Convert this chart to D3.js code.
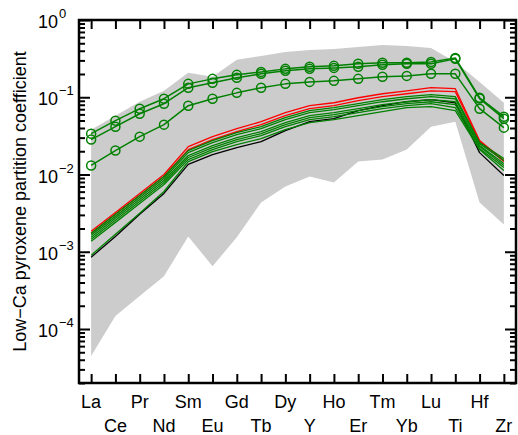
<!DOCTYPE html>
<html>
<head>
<meta charset="utf-8">
<script src="https://cdn.jsdelivr.net/npm/d3@7"></script>
<style>
  body { margin: 0; background: #fff; }
  svg { display: block; font-family: "Liberation Sans", Arial, Helvetica, sans-serif; }
</style>
</head>
<body>
<svg id="chart" width="518" height="435"></svg>
<script>
// element order along the x axis
var elements = ["La","Ce","Pr","Nd","Sm","Eu","Gd","Tb","Dy","Y","Ho","Er","Tm","Yb","Lu","Ti","Hf","Zr"];

// grey envelope (range of measured values)
var envelopeUpper = [0.0381,0.0578,0.0875,0.121,0.207,0.184,0.305,0.343,0.386,0.410,0.422,0.448,0.476,0.462,0.435,0.287,0.158,0.0849];
var envelopeLower = [4.48e-5,1.47e-4,2.67e-4,4.83e-4,1.58e-3,6.5e-4,1.54e-3,4.35e-3,7.0e-3,9.42e-3,7.89e-3,0.0147,0.0156,0.0210,0.0416,0.0483,4.35e-3,2.26e-3];

// model curves, no markers
var redCurves = [
  [1.84e-3,3.23e-3,5.69e-3,0.0100,0.0230,0.0310,0.0392,0.0483,0.0631,0.0777,0.0849,0.0985,0.111,0.121,0.133,0.129,0.0275,0.0152],
  [1.73e-3,3.05e-3,5.36e-3,9.42e-3,0.0210,0.0283,0.0359,0.0442,0.0578,0.0711,0.0777,0.0902,0.102,0.111,0.121,0.118,0.0267,0.0147]
];
var greenCurves = [
  [1.73e-3,3.05e-3,5.36e-3,9.42e-3,0.0204,0.0275,0.0348,0.0416,0.0544,0.0670,0.0732,0.0825,0.0929,0.102,0.108,0.102,0.0259,0.0161],
  [1.63e-3,2.87e-3,5.05e-3,8.88e-3,0.0192,0.0259,0.0328,0.0392,0.0513,0.0631,0.0690,0.0777,0.0875,0.0956,0.102,0.0956,0.0251,0.0152],
  [1.54e-3,2.71e-3,4.76e-3,8.37e-3,0.0176,0.0237,0.0301,0.0359,0.0469,0.0578,0.0631,0.0711,0.0801,0.0875,0.0929,0.0875,0.0237,0.0139],
  [1.45e-3,2.55e-3,4.48e-3,7.89e-3,0.0166,0.0223,0.0283,0.0338,0.0442,0.0544,0.0595,0.0670,0.0754,0.0825,0.0875,0.0801,0.0230,0.0131],
  [1.37e-3,2.40e-3,4.22e-3,7.43e-3,0.0156,0.0210,0.0267,0.0319,0.0416,0.0513,0.0561,0.0631,0.0711,0.0777,0.0825,0.0732,0.0217,0.0123],
  [9.0e-4,1.68e-3,3.14e-3,6.03e-3,0.0147,0.0198,0.0244,0.0292,0.0381,0.0469,0.0513,0.0578,0.0650,0.0732,0.0754,0.0670,0.0210,0.0113]
];
var blackCurve = [8.5e-4,1.58e-3,3.05e-3,5.69e-3,0.0135,0.0181,0.0223,0.0267,0.0370,0.0483,0.0528,0.0670,0.0777,0.0875,0.0929,0.0849,0.0192,9.7e-3];

// curves with open circle markers
var markedCurves = [
  [0.0338,0.0498,0.0711,0.0957,0.149,0.173,0.195,0.213,0.233,0.248,0.255,0.271,0.279,0.280,0.287,0.323,0.0986,0.0560],
  [0.0283,0.0416,0.0612,0.0824,0.133,0.154,0.179,0.201,0.220,0.233,0.240,0.248,0.263,0.271,0.271,0.314,0.0960,0.0528],
  [0.0131,0.0204,0.0309,0.0442,0.0777,0.0957,0.114,0.133,0.149,0.158,0.163,0.173,0.184,0.189,0.201,0.201,0.0711,0.0404]
];

var majorTicks = [1, 0.1, 0.01, 0.001, 0.0001];
var yTitle = "Low\u2212Ca pyroxene partition coefficient";

var svg = d3.select('#chart');
var margin = {left: 79, right: 2, top: 20, bottom: 52};
var W = 518, H = 435;
var x0 = margin.left, x1 = W - margin.right, y0 = margin.top, y1 = H - margin.bottom;

var x = d3.scalePoint().domain(elements).range([x0, x1]).padding(0.5);
var y = d3.scaleLog().domain([2e-5, 1]).range([y1, y0]);

var minorTicks = y.ticks().filter(function(v) {
  return majorTicks.indexOf(v) < 0;
});

// envelope
var area = d3.area()
  .x(function(d, i) { return x(elements[i]); })
  .y0(function(d, i) { return y(envelopeLower[i]); })
  .y1(function(d) { return y(d); });

svg.append('path')
  .datum(envelopeUpper)
  .attr('d', area)
  .attr('fill', '#cccccc');

var line = d3.line()
  .x(function(d, i) { return x(elements[i]); })
  .y(function(d) { return y(d); });

function drawCurve(data, colour, width) {
  svg.append('path')
    .datum(data)
    .attr('d', line)
    .attr('fill', 'none')
    .attr('stroke', colour)
    .attr('stroke-width', width)
    .attr('stroke-linejoin', 'round');
}

drawCurve(blackCurve, '#000', 1.3);
redCurves.forEach(function(c) { drawCurve(c, '#ff0000', 1.3); });
greenCurves.forEach(function(c) { drawCurve(c, '#008000', 1.3); });

markedCurves.forEach(function(c) {
  drawCurve(c, '#008000', 1.5);
  svg.append('g').selectAll('circle')
    .data(c)
    .enter().append('circle')
    .attr('cx', function(d, i) { return x(elements[i]); })
    .attr('cy', function(d) { return y(d); })
    .attr('r', 4.5)
    .attr('fill', 'none')
    .attr('stroke', '#008000')
    .attr('stroke-width', 1.5);
});

// axes, ticks pointing inward on all four sides
function axisGroup(axis, tx, ty) {
  var g = svg.append('g')
    .attr('transform', 'translate(' + tx + ',' + ty + ')')
    .call(axis);
  g.select('.domain').remove();
  g.selectAll('line').attr('stroke', '#000').attr('stroke-width', 2);
  g.selectAll('text').remove();
  return g;
}

axisGroup(d3.axisBottom(x).tickSize(-9), 0, y1);
axisGroup(d3.axisTop(x).tickSize(-9), 0, y0);
axisGroup(d3.axisLeft(y).tickValues(majorTicks).tickSize(-11), x0, 0);
axisGroup(d3.axisLeft(y).tickValues(minorTicks).tickSize(-6), x0, 0);
axisGroup(d3.axisRight(y).tickValues(majorTicks).tickSize(-11), x1, 0);
axisGroup(d3.axisRight(y).tickValues(minorTicks).tickSize(-6), x1, 0);

svg.append('rect')
  .attr('x', x0).attr('y', y0)
  .attr('width', x1 - x0).attr('height', y1 - y0)
  .attr('fill', 'none')
  .attr('stroke', '#000')
  .attr('stroke-width', 2.5);

// x labels, alternating rows
svg.append('g').selectAll('text')
  .data(elements)
  .enter().append('text')
  .attr('x', function(d) { return x(d); })
  .attr('y', function(d, i) { return i % 2 === 0 ? 408 : 432; })
  .attr('text-anchor', 'middle')
  .attr('font-size', 18)
  .text(function(d) { return d; });

// y labels as 10^n
var yl = svg.append('g').selectAll('text')
  .data(majorTicks)
  .enter().append('text')
  .attr('x', 38)
  .attr('y', function(d) { return y(d) + 8; })
  .attr('font-size', 18);
yl.append('tspan').text('10');
yl.append('tspan')
  .attr('font-size', 13)
  .attr('dx', 1)
  .attr('dy', -10)
  .text(function(d) {
    var e = Math.round(Math.log10(d));
    return e < 0 ? '\u2212' + (-e) : String(e);
  });

svg.append('text')
  .attr('transform', 'translate(26,' + ((y0 + y1) / 2) + ') rotate(-90)')
  .attr('text-anchor', 'middle')
  .attr('font-size', 18)
  .text(yTitle);
</script>
</body>
</html>
